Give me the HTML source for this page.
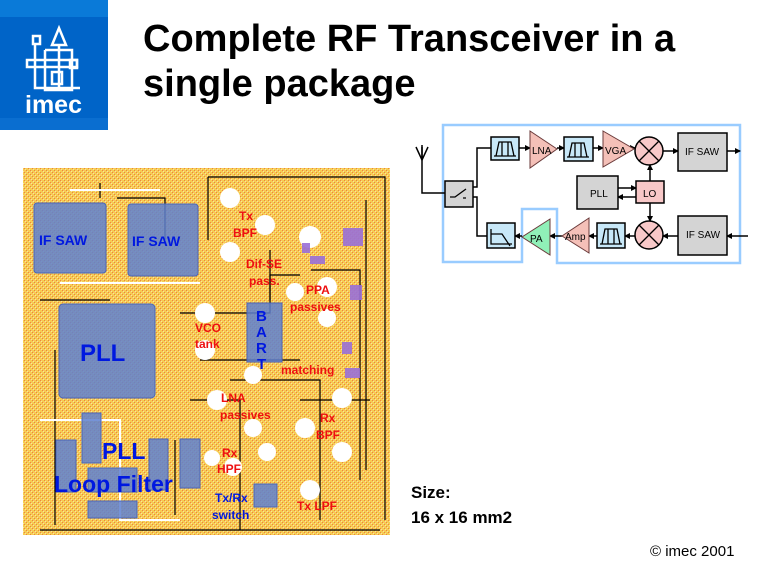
<!DOCTYPE html>
<html><head><meta charset="utf-8"><style>
html,body{margin:0;padding:0;background:#fff;}
svg{display:block;}
</style></head><body>
<svg width="768" height="576" viewBox="0 0 768 576" xmlns="http://www.w3.org/2000/svg" font-family="Liberation Sans, Arial, sans-serif">
<defs>
<pattern id="d" width="4" height="4" patternUnits="userSpaceOnUse">
<rect width="4" height="4" fill="#f8d848"/>
<rect x="0" y="0" width="1" height="1" fill="#e83020"/>
<rect x="2" y="2" width="1" height="1" fill="#e83020"/>
<rect x="1" y="1" width="1" height="1" fill="#ffffff"/>
<rect x="3" y="3" width="1" height="1" fill="#ffffff"/>
</pattern>
<marker id="ar" markerWidth="6" markerHeight="6" refX="5" refY="3" orient="auto" markerUnits="userSpaceOnUse"><path d="M0,0 L6,3 L0,6 z" fill="#000"/></marker>
</defs>

<!-- logo -->
<rect x="0" y="0" width="108" height="130" fill="#0064c8"/>
<rect x="0" y="0" width="108" height="17" fill="#0a7ad8"/>
<rect x="0" y="118" width="108" height="12" fill="#0a6ed0"/>
<g stroke="#fff" stroke-width="2.5" fill="none">
<rect x="33" y="36" width="7" height="8"/>
<path d="M35,44 V88 H80"/>
<path d="M52,45 L59,28 L66,45 Z"/>
<path d="M59,45 V90"/>
<rect x="27" y="60" width="50" height="7"/>
<rect x="70" y="60" width="7" height="8"/>
<path d="M45,50 H72 V90 H45 V50"/>
<rect x="52" y="72" width="10" height="12"/>
</g>
<text x="25" y="113" font-size="25" font-weight="bold" fill="#fff">imec</text>

<!-- title -->
<text x="143" y="51" font-size="38" font-weight="bold" fill="#000">Complete RF Transceiver in a</text>
<text x="143" y="96" font-size="38" font-weight="bold" fill="#000">single package</text>

<!-- layout image -->
<rect x="23" y="168" width="367" height="367" fill="#f4c45a"/>
<rect x="23" y="168" width="367" height="367" fill="url(#d)" opacity="0.45"/>
<g stroke="#000" stroke-width="1.2" fill="none">
<path d="M208,177 H385 V520"/>
<path d="M208,177 V240"/>
<path d="M117,198 H165 V240"/>
<path d="M100,183 V198"/>
<path d="M40,300 H110"/>
<path d="M55,350 V525"/>
<path d="M40,530 H380"/>
<path d="M180,313 H270 V275 H300"/>
<path d="M200,360 H300"/>
<path d="M311,270 H360 V480"/>
<path d="M230,380 H320 V520"/>
<path d="M190,400 H240 V530"/>
<path d="M300,400 H370"/>
<path d="M175,440 V515"/>
<path d="M366,200 V470"/>
<path d="M270,250 V300"/>
</g>
<g stroke="#fff" stroke-width="2" fill="none">
<path d="M70,190 H160"/>
<path d="M60,283 H200"/>
<path d="M40,420 H120 V520 H180"/>
</g>
<g fill="#fff">
<circle cx="230" cy="198" r="10"/><circle cx="265" cy="225" r="10"/><circle cx="230" cy="252" r="10"/>
<circle cx="310" cy="237" r="11"/><circle cx="295" cy="292" r="9"/><circle cx="327" cy="287" r="10"/>
<circle cx="327" cy="318" r="9"/><circle cx="205" cy="313" r="10"/><circle cx="205" cy="350" r="10"/>
<circle cx="253" cy="375" r="9"/><circle cx="217" cy="400" r="10"/><circle cx="253" cy="428" r="9"/>
<circle cx="267" cy="452" r="9"/><circle cx="342" cy="398" r="10"/><circle cx="305" cy="428" r="10"/>
<circle cx="342" cy="452" r="10"/><circle cx="310" cy="490" r="10"/><circle cx="233" cy="467" r="9"/>
<circle cx="212" cy="458" r="8"/>
</g>
<g fill="#9a70d8" opacity="0.9">
<rect x="343" y="228" width="20" height="18"/><rect x="350" y="285" width="12" height="15"/>
<rect x="342" y="342" width="10" height="12"/><rect x="345" y="368" width="15" height="10"/>
<rect x="302" y="243" width="8" height="10"/><rect x="310" y="256" width="15" height="8"/>
</g>
<g fill="#5e80d0" fill-opacity="0.85" stroke="#4a66b8" stroke-width="1">
<rect x="34" y="203" width="72" height="70" rx="3"/>
<rect x="128" y="204" width="70" height="72" rx="3"/>
<rect x="59" y="304" width="96" height="94" rx="4"/>
<rect x="247" y="303" width="35" height="59"/>
<rect x="82" y="413" width="19" height="50"/>
<rect x="56" y="440" width="20" height="52"/>
<rect x="149" y="439" width="19" height="51"/>
<rect x="180" y="439" width="20" height="49"/>
<rect x="88" y="468" width="49" height="24"/>
<rect x="88" y="501" width="49" height="17"/>
<rect x="254" y="484" width="23" height="23"/>
</g>
<g fill="#0018e0" font-weight="bold">
<text x="39" y="245" font-size="14">IF SAW</text>
<text x="132" y="246" font-size="14">IF SAW</text>
<text x="80" y="361" font-size="24">PLL</text>
<text x="256" y="321" font-size="15">B</text>
<text x="256" y="337" font-size="15">A</text>
<text x="256" y="353" font-size="15">R</text>
<text x="257" y="369" font-size="15">T</text>
<text x="102" y="459" font-size="23">PLL</text>
<text x="54" y="492" font-size="23">Loop Filter</text>
<text x="215" y="502" font-size="12">Tx/Rx</text>
<text x="212" y="519" font-size="12">switch</text>
</g>
<g fill="#ee1010" font-weight="bold" font-size="12">
<text x="239" y="220">Tx</text>
<text x="233" y="237">BPF</text>
<text x="246" y="268">Dif-SE</text>
<text x="249" y="285">pass.</text>
<text x="306" y="294">PPA</text>
<text x="290" y="311">passives</text>
<text x="195" y="332">VCO</text>
<text x="195" y="348">tank</text>
<text x="281" y="374">matching</text>
<text x="221" y="402">LNA</text>
<text x="220" y="419">passives</text>
<text x="320" y="422">Rx</text>
<text x="316" y="439">BPF</text>
<text x="222" y="457">Rx</text>
<text x="217" y="473">HPF</text>
<text x="297" y="510">Tx LPF</text>
</g>

<!-- block diagram -->
<path d="M443,125 H740 V263 H557 V209 H522 V262 H443 Z" fill="none" stroke="#99ccff" stroke-width="2.5"/>
<g stroke="#000" stroke-width="1.5" fill="none">
<path d="M422,145 V193 H445"/>
<path d="M416,147 L422,160 L428,147 M422,147 V160"/>
<path d="M473,187 H477 V148 H491"/>
<path d="M473,197 H477 V236 H487"/>
<path d="M519,148 H530" marker-end="url(#ar)"/>
<path d="M557,148 H564" marker-end="url(#ar)"/>
<path d="M593,148 H603" marker-end="url(#ar)"/>
<path d="M634,148 H635" marker-end="url(#ar)"/>
<path d="M663,151 H678" marker-end="url(#ar)"/>
<path d="M727,151 H740" marker-end="url(#ar)"/>
<path d="M650,181 V165" marker-end="url(#ar)"/>
<path d="M650,203 V221" marker-end="url(#ar)"/>
<path d="M618,188 H636" marker-end="url(#ar)"/>
<path d="M636,197 H618" marker-end="url(#ar)"/>
<path d="M748,236 H727" marker-end="url(#ar)"/>
<path d="M678,236 H663" marker-end="url(#ar)"/>
<path d="M635,236 H625" marker-end="url(#ar)"/>
<path d="M597,236 H589" marker-end="url(#ar)"/>
<path d="M562,236 H550" marker-end="url(#ar)"/>
<path d="M522,236 H515" marker-end="url(#ar)"/>
</g>
<g stroke="#000" stroke-width="1.5">
<rect x="445" y="181" width="28" height="26" fill="#d4d4d4"/>
<rect x="491" y="137" width="28" height="23" fill="#c8e8f8"/>
<rect x="564" y="137" width="29" height="24" fill="#c8e8f8"/>
<rect x="597" y="223" width="28" height="25" fill="#c8e8f8"/>
<rect x="487" y="223" width="28" height="25" fill="#c8e8f8"/>
<rect x="678" y="133" width="49" height="38" fill="#d4d4d4"/>
<rect x="678" y="216" width="49" height="39" fill="#d4d4d4"/>
<rect x="577" y="176" width="41" height="33" fill="#d4d4d4"/>
<rect x="636" y="181" width="28" height="22" fill="#f8c8c8"/>
</g>
<g stroke="#6a3a3a" stroke-width="1">
<path d="M530,131 L557,149 L530,168 Z" fill="#f4c0b8"/>
<path d="M603,131 L634,149 L603,167 Z" fill="#f4c0b8"/>
<path d="M589,218 L562,236 L589,253 Z" fill="#f4c0b8"/>
<path d="M550,219 L522,237 L550,255 Z" fill="#90f0b8"/>
</g>
<g stroke="#000" stroke-width="1.5" fill="#f8c8c8">
<circle cx="649" cy="151" r="14"/><circle cx="649" cy="235" r="14"/>
</g>
<g stroke="#000" stroke-width="1.3" fill="none">
<path d="M639,141 L659,161 M659,141 L639,161"/>
<path d="M639,225 L659,245 M659,225 L639,245"/>
<path d="M496,156 L499,142 H511 L514,156 M502,142 V156 M508,142 V156 M494,156 H516"/>
<path d="M569,157 L572,143 H584 L587,157 M575,143 V157 M581,143 V157 M567,157 H589"/>
<path d="M602,244 L605,229 H617 L620,244 M608,229 V244 M614,229 V244 M600,244 H622"/>
<path d="M491,229 V244 H512 M491,234 H502 L510,246"/>
<path d="M450,197 H455 L466,189 M463,198 H466"/>
</g>
<g font-size="10" fill="#000">
<text x="532" y="154">LNA</text>
<text x="605" y="154">VGA</text>
<text x="565" y="240">Amp</text>
<text x="530" y="242">PA</text>
<text x="685" y="155">IF SAW</text>
<text x="686" y="238">IF SAW</text>
<text x="590" y="197">PLL</text>
<text x="643" y="197">LO</text>
</g>

<!-- size text -->
<text x="411" y="498" font-size="17" font-weight="bold" fill="#000">Size:</text>
<text x="411" y="523" font-size="17" font-weight="bold" fill="#000">16 x 16 mm2</text>
<text x="650" y="556" font-size="15" fill="#000">© imec 2001</text>
</svg>
</body></html>
